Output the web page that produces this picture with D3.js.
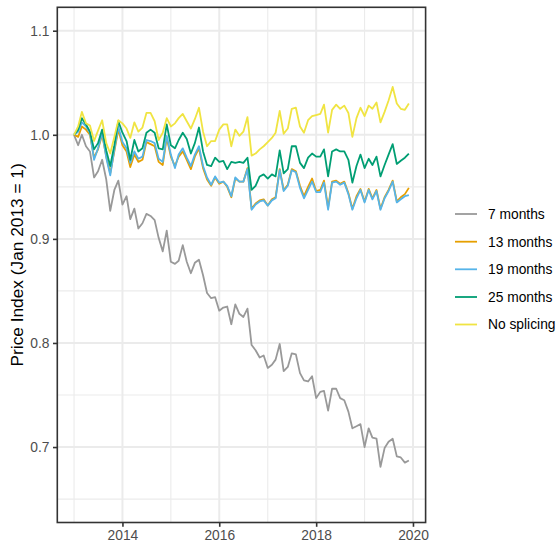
<!DOCTYPE html>
<html><head><meta charset="utf-8">
<script src="https://cdn.jsdelivr.net/npm/d3@7"></script>
<style>body{margin:0;background:#fff}svg{display:block}</style>
</head><body>
<svg id="chart" width="559" height="543"></svg>
<script>
const seriesNames = ["7 months","13 months","19 months","25 months","No splicing"];
const seriesColors = ["#999999","#E69F00","#56B4E9","#009E73","#F0E442"];
const firstMonth = new Date(2013, 0, 1);
const lastMonth = new Date(2019, 11, 1);

const months7 = [
1.000,0.990,1.000,0.989,0.984,0.959,0.965,0.976,0.957,0.927,0.947,0.956,
0.933,0.941,0.919,0.929,0.910,0.915,0.924,0.922,0.918,0.901,0.888,0.908,
0.878,0.876,0.879,0.894,0.878,0.867,0.877,0.880,0.865,0.848,0.843,0.844,
0.831,0.834,0.835,0.818,0.837,0.828,0.825,0.833,0.798,0.793,0.786,0.788,
0.776,0.779,0.784,0.799,0.773,0.777,0.790,0.789,0.771,0.764,0.763,0.768,
0.747,0.753,0.754,0.735,0.756,0.756,0.747,0.745,0.734,0.718,0.720,0.722,
0.700,0.718,0.709,0.708,0.681,0.699,0.705,0.708,0.691,0.690,0.685,0.687];
const months13 = [
1.000,0.998,1.008,1.005,1.000,0.978,0.986,1.000,0.979,0.963,0.984,1.005,
0.990,0.984,0.969,0.981,0.974,0.976,0.993,0.991,0.989,0.974,0.971,0.997,
0.979,0.970,0.979,0.984,0.976,0.967,0.979,0.987,0.968,0.957,0.951,0.959,
0.953,0.955,0.950,0.940,0.958,0.955,0.955,0.968,0.929,0.934,0.937,0.938,
0.932,0.938,0.940,0.967,0.947,0.952,0.967,0.965,0.951,0.941,0.950,0.958,
0.946,0.947,0.956,0.930,0.955,0.956,0.953,0.955,0.944,0.929,0.941,0.948,
0.936,0.948,0.939,0.947,0.929,0.940,0.947,0.956,0.936,0.940,0.943,0.949];
const months19 = [
1.000,1.003,1.012,1.008,1.002,0.976,0.987,1.002,0.978,0.961,0.986,1.008,
0.993,0.987,0.973,0.984,0.977,0.979,0.995,0.994,0.992,0.977,0.974,0.999,
0.981,0.968,0.981,0.987,0.978,0.970,0.981,0.989,0.970,0.959,0.952,0.960,
0.954,0.955,0.951,0.941,0.959,0.955,0.955,0.967,0.928,0.933,0.936,0.937,
0.932,0.937,0.939,0.966,0.946,0.951,0.966,0.964,0.949,0.939,0.947,0.955,
0.945,0.945,0.954,0.928,0.954,0.955,0.952,0.954,0.943,0.928,0.939,0.947,
0.935,0.947,0.938,0.946,0.928,0.939,0.946,0.955,0.935,0.938,0.941,0.942];
const months25 = [
1.000,1.005,1.016,1.010,1.003,0.986,0.992,1.005,0.985,0.970,0.990,1.013,
1.002,0.994,0.976,0.995,0.984,0.987,1.002,1.005,1.002,0.987,0.986,1.010,
0.990,0.987,0.995,1.002,0.996,0.982,0.992,1.007,0.984,0.971,0.970,0.978,
0.974,0.975,0.967,0.974,0.973,0.974,0.973,0.978,0.947,0.951,0.960,0.962,
0.958,0.962,0.960,0.985,0.963,0.967,0.989,0.989,0.973,0.968,0.978,0.982,
0.979,0.979,0.986,0.960,0.984,0.986,0.984,0.984,0.976,0.954,0.970,0.981,
0.968,0.977,0.971,0.979,0.960,0.971,0.981,0.991,0.972,0.975,0.978,0.982];
const noSplicing = [
1.000,1.008,1.022,1.011,1.009,0.994,1.004,1.014,0.992,0.982,0.998,1.014,
1.011,1.006,0.997,1.012,1.003,1.007,1.021,1.021,1.013,0.995,1.002,1.016,
1.008,1.011,1.016,1.020,1.013,1.006,1.015,1.026,1.003,0.989,0.994,0.994,
1.005,1.010,1.010,0.989,1.005,0.999,1.003,1.017,0.980,0.982,0.986,0.989,
0.993,0.997,1.002,1.023,1.001,1.006,1.025,1.026,1.008,1.002,1.014,1.018,
1.019,1.020,1.029,1.002,1.024,1.029,1.025,1.028,1.021,0.998,1.016,1.026,
1.018,1.028,1.025,1.031,1.012,1.022,1.033,1.046,1.030,1.025,1.024,1.030];

const yMajorTicks = [0.7, 0.8, 0.9, 1.0, 1.1];
const yMinorTicks = [0.65, 0.75, 0.85, 0.95, 1.05];
const xMajorYears = [2014, 2016, 2018, 2020];
const xMinorYears = [2013, 2015, 2017, 2019];
const yLimits = [0.65, 1.1];
const yTitle = "Price Index (Jan 2013 = 1)";

const allSeries = [months7, months13, months19, months25, noSplicing];
const dates = d3.timeMonth.range(firstMonth, d3.timeMonth.offset(lastMonth, 1));

const W = 559, H = 543;
const panel = {left: 57.3, right: 425.6, top: 7.3, bottom: 522.5};
const font = "'Liberation Sans', Arial, Helvetica, sans-serif";

const span = lastMonth - firstMonth;
const x = d3.scaleTime()
  .domain([new Date(+firstMonth - span * 0.05), new Date(+lastMonth + span * 0.05)])
  .range([panel.left, panel.right]);
const ySpan = yLimits[1] - yLimits[0];
const y = d3.scaleLinear()
  .domain([yLimits[0] - ySpan * 0.05, yLimits[1] + ySpan * 0.05])
  .range([panel.bottom, panel.top]);

const svg = d3.select("#chart");
svg.append("rect").attr("width", W).attr("height", H).attr("fill", "#fff");

const grid = svg.append("g");
grid.selectAll(".ymin").data(yMinorTicks).enter().append("line")
  .attr("x1", panel.left).attr("x2", panel.right)
  .attr("y1", d => y(d)).attr("y2", d => y(d))
  .attr("stroke", "#EBEBEB").attr("stroke-width", 1.1);
grid.selectAll(".xmin").data(xMinorYears).enter().append("line")
  .attr("y1", panel.top).attr("y2", panel.bottom)
  .attr("x1", d => x(new Date(d, 0, 1))).attr("x2", d => x(new Date(d, 0, 1)))
  .attr("stroke", "#EBEBEB").attr("stroke-width", 1.1);
grid.selectAll(".ymaj").data(yMajorTicks).enter().append("line")
  .attr("x1", panel.left).attr("x2", panel.right)
  .attr("y1", d => y(d)).attr("y2", d => y(d))
  .attr("stroke", "#EBEBEB").attr("stroke-width", 2);
grid.selectAll(".xmaj").data(xMajorYears).enter().append("line")
  .attr("y1", panel.top).attr("y2", panel.bottom)
  .attr("x1", d => x(new Date(d, 0, 1))).attr("x2", d => x(new Date(d, 0, 1)))
  .attr("stroke", "#EBEBEB").attr("stroke-width", 2);

const line = d3.line().x((d, i) => x(dates[i])).y(d => y(d));
const lines = svg.append("g")
  .attr("clip-path", null);
allSeries.forEach((s, k) => {
  lines.append("path").datum(s)
    .attr("d", line)
    .attr("fill", "none")
    .attr("stroke", seriesColors[k])
    .attr("stroke-width", 1.8)
    .attr("stroke-linejoin", "round")
    .attr("stroke-linecap", "butt");
});

// panel border
svg.append("rect")
  .attr("x", panel.left).attr("y", panel.top)
  .attr("width", panel.right - panel.left).attr("height", panel.bottom - panel.top)
  .attr("fill", "none").attr("stroke", "#333333").attr("stroke-width", 1.6);

// y axis
const yAxis = d3.axisLeft(y).tickValues(yMajorTicks).tickFormat(d3.format(".1f"))
  .tickSizeInner(4.3).tickSizeOuter(0).tickPadding(3.5);
const gy = svg.append("g").attr("transform", `translate(${panel.left},0)`).call(yAxis);
gy.select(".domain").remove();
gy.selectAll(".tick line").attr("stroke", "#333333").attr("stroke-width", 1.6);
gy.selectAll(".tick text").attr("fill", "#4D4D4D").style("font-family", font).style("font-size", "13.8px");

// x axis
const xAxis = d3.axisBottom(x).tickValues(xMajorYears.map(v => new Date(v, 0, 1)))
  .tickFormat(d3.timeFormat("%Y")).tickSizeInner(4.3).tickSizeOuter(0).tickPadding(3.5);
const gx = svg.append("g").attr("transform", `translate(0,${panel.bottom})`).call(xAxis);
gx.select(".domain").remove();
gx.selectAll(".tick line").attr("stroke", "#333333").attr("stroke-width", 1.6);
gx.selectAll(".tick text").attr("fill", "#4D4D4D").style("font-family", font).style("font-size", "13.8px");

// y title
svg.append("text")
  .attr("transform", `translate(23,${(panel.top + panel.bottom) / 2}) rotate(-90)`)
  .attr("text-anchor", "middle")
  .style("font-family", font).style("font-size", "17.3px").attr("fill", "#000")
  .text(yTitle);

// legend
const legendCenters = [214, 241.7, 269.3, 297, 324.5];
const lg = svg.append("g");
seriesNames.forEach((name, k) => {
  const cy = legendCenters[k];
  lg.append("line").attr("x1", 455).attr("x2", 477).attr("y1", cy).attr("y2", cy)
    .attr("stroke", seriesColors[k]).attr("stroke-width", 1.8);
  lg.append("text").attr("x", 488).attr("y", cy + 4.9)
    .style("font-family", font).style("font-size", "13.8px").attr("fill", "#000")
    .text(name);
});
</script>
</body></html>
